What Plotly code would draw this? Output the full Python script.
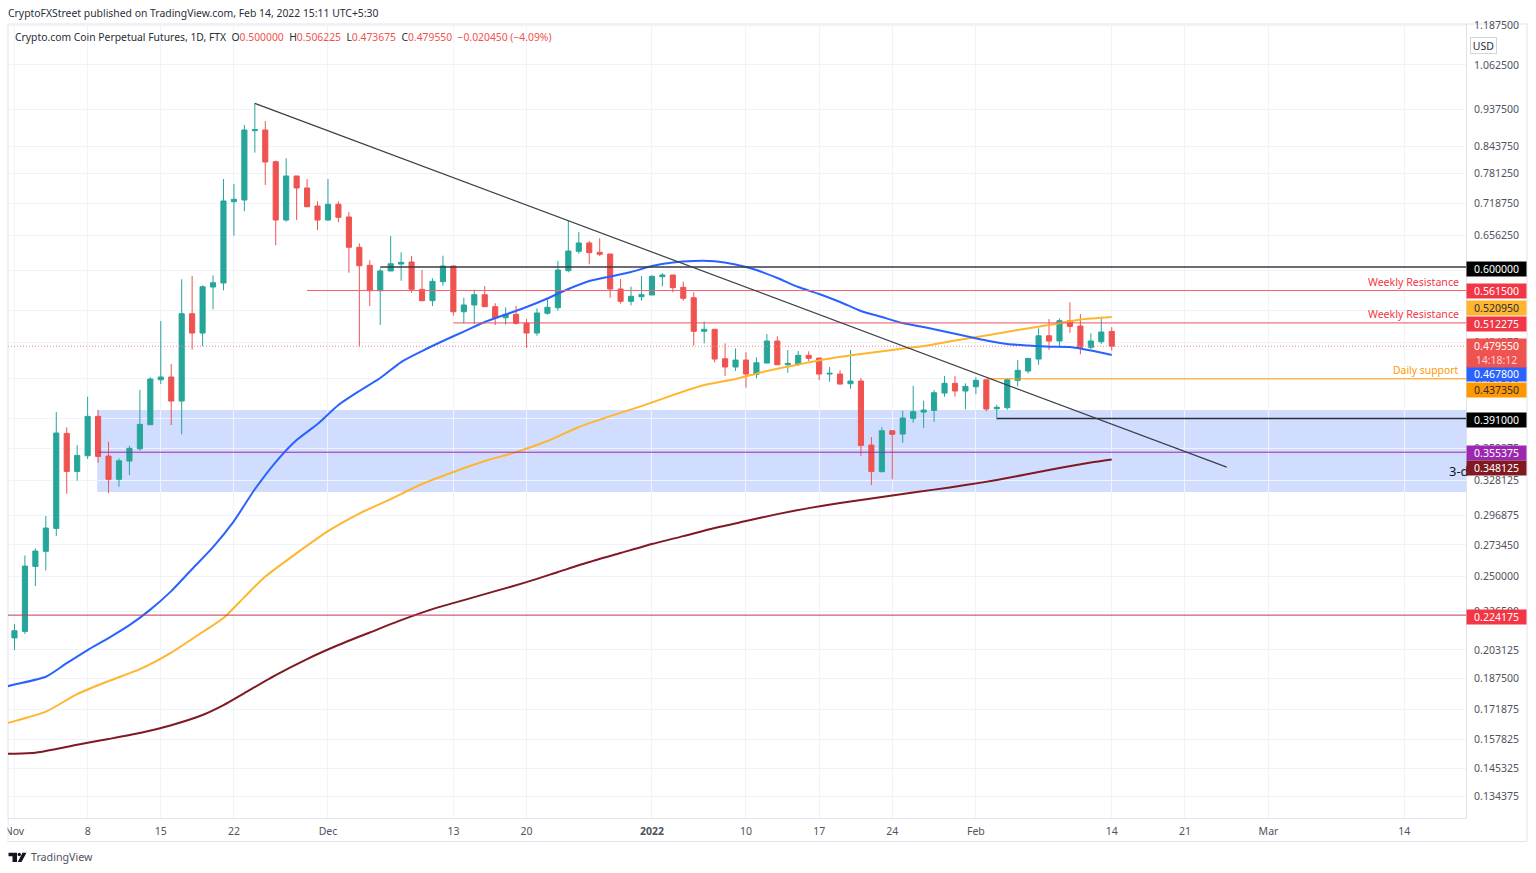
import math

import pandas as pd
import plotly.graph_objects as go

dates = pd.date_range('2021-11-01', periods=106)

opens = [.2102,.2141,.2573,.2685,.2865,.3748,.3366,.3518,.3933,.3515,.3291,.3466,.3589,.3841,.4362,.4396,.4107,.5258,.4978,.5670,
         .5735,.7217,.7252,.8823,.8840,.8082,.6853,.7762,.7503,.7130,.6853,.7165,.6912,.6344,.6029,.5611,.5933,.6051,.6086,.5633,
         .5455,.5756,.6017,.5287,.5389,.5548,.5363,.5198,.5249,.5117,.4978,.5264,.5348,.5938,.6273,.6422,.6255,.6225,.5638,.5445,
         .5517,.5543,.5838,.5866,.5665,.5501,.5002,.5031,.4629,.4522,.4612,.4429,.4573,.4867,.4551,.4560,.4674,.4638,.4433,.4433,
         .4313,.4346,.3626,.3363,.3776,.3741,.3911,.3981,.4000,.4201,.4318,.4225,.4277,.4362,.4019,.4030,.4355,.4471,.4625,.4940,
         .4867,.5155,.5078,.4781,.4857,.5000]
highs = [.2187,.2654,.2707,.2967,.3981,.3813,.3626,.4157,.4004,.3660,.3493,.3619,.4237,.4392,.5150,.4560,.5795,.5849,.5697,.5861,
         .7696,.7588,.8966,.9534,.9068,.8105,.8160,.7762,.7696,.7226,.7696,.7226,.7010,.6416,.6115,.5978,.6550,.6255,.6190,.5949,
         .5811,.6195,.6026,.5501,.5627,.5686,.5415,.5354,.5378,.5179,.5339,.5492,.6103,.6840,.6625,.6458,.6508,.6225,.5800,.5675,
         .5849,.5861,.5899,.5866,.5756,.5586,.5143,.5035,.4835,.4767,.4714,.4648,.4964,.4932,.4745,.4731,.4727,.4638,.4522,.4480,
         .4745,.4387,.3709,.3813,.3784,.3996,.4289,.4111,.4237,.4408,.4408,.4318,.4392,.4362,.4064,.4379,.4612,.4638,.5045,.5179,
         .5190,.5430,.5253,.4974,.5190,.506225]
lows = [.2031,.2125,.2434,.2544,.2803,.3160,.3278,.3486,.3449,.3166,.3223,.3331,.3568,.3841,.4309,.3838,.3738,.4749,.4798,.5323,
        .5617,.6556,.7024,.8291,.7567,.6380,.6820,.6853,.7104,.6662,.6840,.6809,.5904,.4789,.5373,.5092,.5933,.5772,.5579,.5445,
        .5373,.5691,.5228,.5117,.5107,.5363,.5092,.5097,.5097,.4775,.4940,.5243,.5302,.5911,.6230,.6046,.6190,.5501,.5408,.5384,
        .5455,.5543,.5681,.5586,.5455,.4803,.4835,.4582,.4408,.4471,.4265,.4379,.4573,.4551,.4449,.4535,.4599,.4358,.4338,.4301,
        .4253,.3518,.3238,.3363,.3291,.3650,.3863,.3805,.3873,.4157,.4157,.4012,.4189,.3989,.3900,.4007,.4281,.4442,.4551,.4745,
        .4781,.4978,.4687,.4754,.4826,.473675]
closes = [.2145,.2575,.2687,.2868,.3752,.3366,.3522,.3933,.3512,.3291,.3469,.3593,.3845,.4371,.4396,.4107,.5258,.4978,.5675,.5739,
          .7232,.7267,.8840,.8848,.8075,.6853,.7762,.7503,.7116,.6853,.7165,.6906,.6344,.6022,.5611,.5933,.6056,.6080,.5633,.5455,
          .5762,.6017,.5287,.5389,.5548,.5363,.5194,.5249,.5117,.4978,.5268,.5354,.5949,.6278,.6422,.6248,.6220,.5638,.5445,.5523,
          .5548,.5844,.5866,.5659,.5492,.5002,.5031,.4625,.4522,.4612,.4433,.4577,.4867,.4551,.4569,.4674,.4634,.4433,.4442,.4309,
          .4346,.3623,.3366,.3776,.3738,.3914,.3985,.4004,.4205,.4318,.4225,.4281,.4355,.4015,.4035,.4362,.4480,.4634,.4940,.4867,
          .5155,.5073,.4781,.4867,.4992,.47955]

# moving averages, read every few days (day number counted from Nov 1)
ma50_days = [-1, 0] + list(range(3, 106, 2))
ma50 = [.1829,.1842,.1883,.1957,.2031,.2101,.2179,.2277,.2399,.2554,.2717,.2925,.3200,.3456,.3678,.3848,.4061,.4225,.4383,.4586,
        .4731,.4867,.4999,.5136,.5246,.5358,.5489,.5638,.5767,.5841,.5916,.6017,.6077,.6103,.6098,.6043,.5949,.5816,.567,.5559,
        .5435,.5298,.5209,.5121,.5063,.4999,.4936,.4874,.4826,.4805,.4789,.4785,.4738,.4678]
ma100_days = [-1, 0, 3, 6, 9, 12, 15, 18, 20, 22, 24] + list(range(27, 106, 3))
ma100 = [.1649,.1661,.1706,.1793,.186,.1924,.2016,.2137,.2223,.2359,.2500,.2671,.2843,.2988,.3113,.3248,.336,.3466,.3555,.3668,
         .3816,.3936,.4049,.4177,.4297,.4371,.4471,.4554,.4632,.4691,.4745,.4798,.4874,.4943,.5021,.5092,.5172,.5210]
ma200_days = [-1, 0, 2, 4, 6, 9, 12, 15, 18, 20, 22] + list(range(25, 104, 3)) + [105]
ma200 = [.1515,.1515,.1519,.1535,.1554,.1579,.1606,.1642,.169,.1738,.1798,.1892,.198,.206,.2134,.221,.228,.2339,.2399,.2461,
         .2532,.2605,.2672,.2741,.2803,.2868,.2925,.2983,.3034,.3078,.3117,.3157,.3197,.3238,.3285,.3341,.3398,.3451,.3481]

x_start = '2021-10-31 09:07'
x_end = '2022-03-19 21:36'

# horizontal levels: price, first day, colour, width
level_prices = [0.6, 0.5615, 0.512275, 0.43735, 0.391, 0.355375, 0.224175]
level_starts = ['2021-12-06', '2021-11-29', '2021-12-13', '2022-02-02', '2022-02-03', '2021-11-09', x_start]
level_colors = ['#3a3d45', '#f4606e', '#e8505f', '#ff9800', '#2a2e39', '#9c27b0', '#c23a55']
level_widths = [1.5, 1, 1, 1, 1.5, 1, 1]

trend_x = ['2021-11-24', '2022-02-25']
trend_y = [0.953, 0.3407]

zone_x0 = '2021-11-08 22:00'
zone_top = 0.4005
zone_bottom = 0.3176

y_ticks = [1.1875, 1.0625, 0.9375, 0.84375, 0.78125, 0.71875, 0.65625, 0.59375, 0.53125, 0.484375, 0.4375,
           0.390625, 0.359375, 0.328125, 0.296875, 0.27345, 0.25, 0.2265, 0.203125, 0.1875, 0.171875,
           0.157825, 0.145325, 0.134375]
# these three sit fully under a price tag
y_hidden = [0.59375, 0.53125, 0.390625]
x_ticks = ['2021-11-01', '2021-11-08', '2021-11-15', '2021-11-22', '2021-12-01', '2021-12-13', '2021-12-20',
           '2022-01-01', '2022-01-10', '2022-01-17', '2022-01-24', '2022-02-01', '2022-02-14', '2022-02-21',
           '2022-03-01', '2022-03-14']
x_labels = ['Nov', '8', '15', '22', 'Dec', '13', '20', '<b>2022</b>', '10', '17', '24', 'Feb', '14', '21', 'Mar', '14']

# right hand price tags: text, pixel row, background, text colour
tags = [
    ('0.600000', 268.5, '#000000', '#ffffff'),
    ('0.561500', 291, '#f23645', '#ffffff'),
    ('0.520950', 308.5, '#ffb52e', '#2a2e39'),
    ('0.512275', 323.5, '#f23645', '#ffffff'),
    ('0.224175', 616.5, '#f23645', '#ffffff'),
    ('0.391000', 420, '#000000', '#ffffff'),
    ('0.355375', 453, '#9c27b0', '#ffffff'),
    ('0.348125', 468, '#801922', '#ffffff'),
    ('0.437350', 390.5, '#ff9800', '#2a2e39'),
    ('0.467800', 374, '#2962ff', '#ffffff'),
]

FONT = 'Noto Sans'
L, R, T, B = 8, 1466, 24, 818


def px(x):
    return (x - L) / (R - L)


def py(y):
    return (B - y) / (B - T)


fig = go.Figure()

fig.add_trace(go.Scatter(x=[x_start, x_end], y=[closes[-1], closes[-1]], mode='lines',
                         line=dict(color='#f28b88', width=1, dash='1px,2px')))
fig.add_trace(go.Candlestick(
    x=dates, open=opens, high=highs, low=lows, close=closes, whiskerwidth=0,
    increasing=dict(line=dict(color='#26a69a', width=1), fillcolor='#26a69a'),
    decreasing=dict(line=dict(color='#ef5350', width=1), fillcolor='#ef5350'),
))
for days, vals, col in [(ma200_days, ma200, '#801922'), (ma100_days, ma100, '#ffb52e'), (ma50_days, ma50, '#2962ff')]:
    fig.add_trace(go.Scatter(x=pd.Timestamp('2021-11-01') + pd.to_timedelta(days, unit='D'), y=vals, mode='lines',
                             line=dict(color=col, width=2, shape='spline', smoothing=0.6)))
for price, start, col, w in zip(level_prices, level_starts, level_colors, level_widths):
    fig.add_trace(go.Scatter(x=[start, x_end], y=[price, price], mode='lines', line=dict(color=col, width=w)))
fig.add_trace(go.Scatter(x=trend_x, y=trend_y, mode='lines', line=dict(color='#3a3d45', width=1.2)))

fig.add_shape(type='rect', xref='x', yref='y', x0=zone_x0, x1=x_end, y0=zone_bottom, y1=zone_top,
              fillcolor='rgba(41,98,255,0.22)', line_width=0, layer='below')
# frame around chart and axis strip
frame = '#e0e3eb'
fig.add_shape(type='rect', xref='paper', yref='paper', x0=px(8), x1=px(1527), y0=py(24), y1=py(841.5),
              line=dict(color=frame, width=1), layer='below')
# covers the left of the Nov label as the chart frame does
fig.add_shape(type='rect', xref='paper', yref='paper', x0=px(0), x1=px(7.5), y0=py(819), y1=py(840),
              fillcolor='white', line_width=0, layer='above')
# TradingView mark
logo = ('M {0} {1} L {2} {1} L {2} {3} L {4} {3} L {4} {5} L {6} {5} Z '
        'M {7} {1} L {8} {1} L {9} {3} L {10} {3} Z').format(
    px(8.5), py(852.7), px(17), py(862), px(12.5), py(856.2), px(8.5), px(22.5), px(26.5), px(21.5), px(17.8))
fig.add_shape(type='path', xref='paper', yref='paper', path=logo, fillcolor='#131722', line_width=0)
fig.add_shape(type='circle', xref='paper', yref='paper', x0=px(17.6), x1=px(21), y0=py(852.7), y1=py(856.2),
              fillcolor='#131722', line_width=0)


def text(x, y, s, size=10.5, color='#131722', anchor='left'):
    fig.add_annotation(xref='paper', yref='paper', x=px(x), y=py(y), text=s, showarrow=False, xanchor=anchor,
                       yanchor='middle', align='left', borderpad=0, font=dict(family=FONT, size=size, color=color))


text(7, 13, 'CryptoFXStreet published on TradingView.com, Feb 14, 2022 15:11 UTC+5:30', 10.4, '#2a2e39')
red = '<span style="color:#ef5350">%s</span>'
text(14, 37, 'Crypto.com Coin Perpetual Futures, 1D, FTX  O' + red % '0.500000' + '  H' + red % '0.506225'
     + '  L' + red % '0.473675' + '  C' + red % '0.479550' + '  ' + red % '−0.020450 (−4.09%)', 10.35, '#2a2e39')
text(1460, 282, 'Weekly Resistance', 10.6, '#f23645', 'right')
text(1460, 314, 'Weekly Resistance', 10.6, '#f23645', 'right')
text(1460, 370, 'Daily support', 10.4, '#ff9800', 'right')
text(1448, 471, '3-d', 13, '#131722')
text(30, 857, 'TradingView', 10.7, '#50535e')

fig.add_annotation(xref='paper', yref='paper', x=px(1497), y=py(37), text='USD', showarrow=False, width=25, height=15,
                   bgcolor='white', bordercolor='#d1d4dc', borderwidth=1, borderpad=0,
                   font=dict(family=FONT, size=10.5, color='#2a2e39'))
for label, row, bg, fg in tags:
    fig.add_annotation(xref='paper', yref='paper', x=px(1466), y=py(row), text=label, showarrow=False,
                       xanchor='left', yanchor='middle', width=59, height=14, bgcolor=bg, borderpad=0,
                       font=dict(family=FONT, size=10.5, color=fg))
fig.add_annotation(xref='paper', yref='paper', x=px(1466), y=py(353), showarrow=False, xanchor='left', yanchor='middle',
                   text='0.479550<br><span style="color:#fbd5d4">14:18:12</span>', width=59, height=28,
                   bgcolor='#ef5350', borderpad=0, font=dict(family=FONT, size=10.5, color='#ffffff'))

fig.update_layout(
    width=1536, height=873, autosize=False,
    margin=dict(l=L, r=1536 - R, t=T, b=873 - B, pad=0, autoexpand=False),
    paper_bgcolor='white', plot_bgcolor='white', showlegend=False,
    xaxis=dict(type='date', range=[x_start, x_end], rangeslider=dict(visible=False), tickmode='array',
               tickvals=x_ticks, ticktext=x_labels, tickangle=0, gridcolor='#f0f3fa', gridwidth=1, zeroline=False,
               showline=True, linecolor=frame, ticks='outside', ticklen=3, tickcolor='white',
               tickfont=dict(family=FONT, size=10.5, color='#50535e')),
    yaxis=dict(type='log', side='right', range=[math.log10(0.1263), math.log10(1.193)], tickmode='array',
               tickvals=y_ticks, ticktext=['' if v in y_hidden else '%.6f' % v for v in y_ticks],
               gridcolor='#f0f3fa', gridwidth=1,
               zeroline=False, showline=True, linecolor=frame, ticks='outside', ticklen=5, tickcolor='white',
               tickfont=dict(family=FONT, size=10.5, color='#50535e')),
)

fig.write_html("out.html", config={'displayModeBar': False}, post_script="document.body.style.margin='0';")
